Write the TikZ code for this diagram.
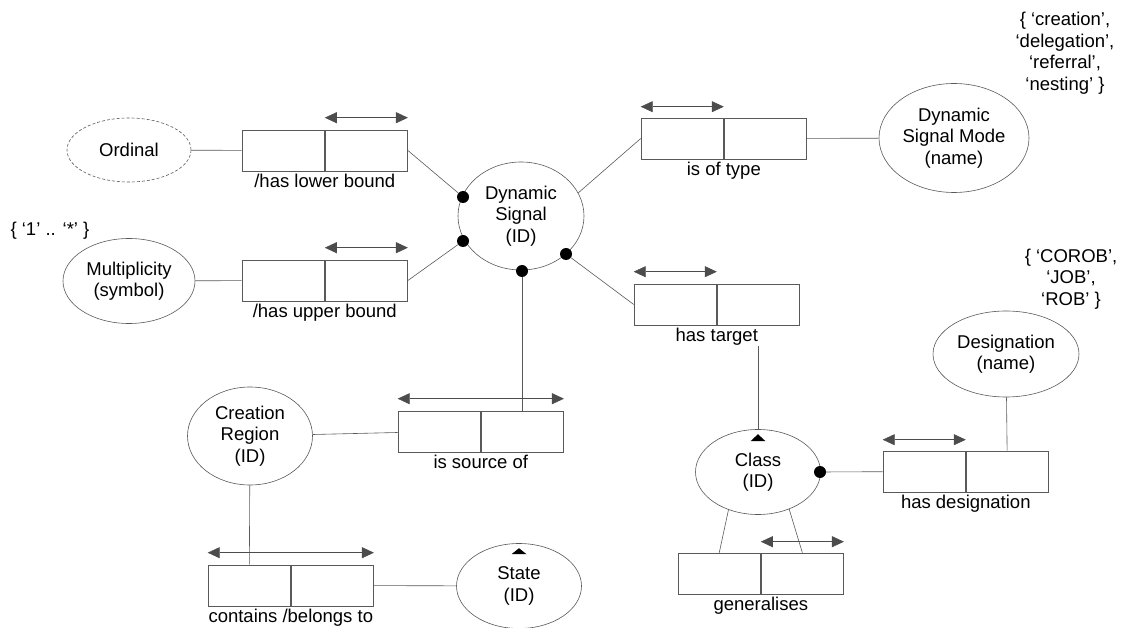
\documentclass[tikz,border=0pt]{standalone}
\usepackage{fontspec}
\setmainfont{Liberation Sans}
\usepackage{tikz}
\usetikzlibrary{shapes.geometric,arrows.meta}
\usetikzlibrary{positioning}
\tikzstyle{entity} = [ellipse, draw=black!65, line width=0.6pt, inner sep=-15pt,
                      align=center]
\tikzstyle{ghost entity} = [entity, dash pattern=on 3pt off 2pt]
\tikzstyle{role} = [rectangle, draw=black!65, line width=0.6pt,
    minimum width=82.5pt, minimum height=41pt, inner sep=0pt]
\tikzstyle{rolename} = [inner sep=0pt]
\tikzstyle{dot} = [circle, fill=black, inner sep=0pt, minimum size=12pt]
\tikzstyle{edge} = [draw, black!65, line width=0.6pt]
\tikzstyle{uniq} = [draw, black!70, line width=0.6pt,
    {Triangle[length=12pt,width=11pt]}-{Triangle[length=12pt,width=11pt]}]
\tikzstyle{values} = [align=center, inner sep=0pt]
\begin{document}
\begin{tikzpicture}[x=1pt, y=-1pt, node distance=0pt,
    font=\fontsize{18.5}{21.5}\selectfont]
  \useasboundingbox (0,0) rectangle (1125,628);
  % Place entities
  \node [ghost entity, minimum width=124pt, minimum height=64pt] (ord) at (129,150) {Ordinal};
  \node [entity, minimum width=132pt, minimum height=85pt] (mult) at (129,281) {Multiplicity\\(symbol)};
  \node [entity, minimum width=126pt, minimum height=108pt] (ds) at (521,216) {Dynamic\\Signal\\(ID)};
  \node [entity, minimum width=150pt, minimum height=109pt] (mode) at (954,138) {Dynamic\\Signal Mode\\(name)};
  \node [entity, minimum width=125pt, minimum height=85pt] (cls) at (758,472) {Class\\(ID)};
  \node [entity, minimum width=146pt, minimum height=86pt] (desg) at (1006,354) {Designation\\(name)};
  \node [entity, minimum width=125pt, minimum height=98pt] (cr) at (250,436) {Creation\\Region\\(ID)};
  \node [entity, minimum width=125pt, minimum height=85pt] (state) at (519,586) {State\\(ID)};
  % Value constraints
  \node [values] (multV) at (50,231) {\{ `1' .. `*' \}};
  \node [values] (modeV) at (1065,53) {\{ `creation',\\`delegation',\\`referral',\\`nesting' \}};
  \node [values] (desgV) at (1071,279) {\{ `COROB',\\`JOB',\\`ROB' \}};
  % Place roles
  \node [role] (lbA) at (283.25,150.5) {};
  \node [role, right=of lbA] (lbB) {};
  \node [rolename, below=3pt of lbA.south east] (lbL) {/has lower bound};
  \node [role] (ubA) at (283.25,280.5) {};
  \node [role, right=of ubA] (ubB) {};
  \node [rolename, below=3pt of ubA.south east] (ubL) {/has upper bound};
  \node [role] (tyA) at (682.25,138.5) {};
  \node [role, right=of tyA] (tyB) {};
  \node [rolename, below=3pt of tyA.south east] (tyL) {is of type};
  \node [role] (tgA) at (675.25,304.5) {};
  \node [role, right=of tgA] (tgB) {};
  \node [rolename, below=3pt of tgA.south east] (tgL) {has target};
  \node [role] (srcA) at (439.25,431.5) {};
  \node [role, right=of srcA] (srcB) {};
  \node [rolename, below=3pt of srcA.south east] (srcL) {is source of};
  \node [role] (cntA) at (249.25,585.5) {};
  \node [role, right=of cntA] (cntB) {};
  \node [rolename, below=3pt of cntA.south east] (cntL) {contains /belongs to};
  \node [role] (desA) at (924.25,471.5) {};
  \node [role, right=of desA] (desB) {};
  \node [rolename, below=3pt of desA.south east] (desL) {has designation};
  \node [role] (genA) at (719.25,573.5) {};
  \node [role, right=of genA] (genB) {};
  \node [rolename, below=3pt of genA.south east] (genL) {generalises};
  % Mandatory dots
  \node [dot] (dsA) at (463,197) {};
  \node [dot] (dsB) at (463,241) {};
  \node [dot] (dsC) at (522,271) {};
  \node [dot] (dsD) at (566,254) {};
  \node [dot] (clsA) at (820,472) {};
  % Draw edges
  \path[edge] (ord) -- (lbA);
  \path[edge] (mult) -- (ubA);
  \path[edge] (lbB.east) -- (dsA);
  \path[edge] (ubB.east) -- (dsB);
  \path[edge] (ds.22) -- (tyA.west);
  \path[edge] (tyB) -- (mode);
  \path[edge] (dsD) -- (tgA.west);
  \path[edge] (dsC) -- (dsC |- srcB.north);
  \path[edge] (cls.north) -- (cls.north |- tgL.south);
  \path[edge] (clsA) -- (desA);
  \path[edge] (desg) -- (desB);
  \path[edge] (cls.232) -- (genA.north);
  \path[edge] (cls.310) -- (genB.north);
  \path[edge] (cr) -- (srcA);
  \path[edge] (cr) -- (cntA);
  \path[edge] (cntB) -- (state);
  % Uniqueness bars
  \path[uniq] ([yshift=12pt]lbB.north west) -- ([yshift=12pt]lbB.north east);
  \path[uniq] ([yshift=12pt]ubB.north west) -- ([yshift=12pt]ubB.north east);
  \path[uniq] ([yshift=11pt]tyA.north west) -- ([yshift=11pt]tyA.north east);
  \path[uniq] ([yshift=12pt]tgA.north west) -- ([yshift=12pt]tgA.north east);
  \path[uniq] ([yshift=12pt]srcA.north west) -- ([yshift=12pt]srcB.north east);
  \path[uniq] ([yshift=12pt]cntA.north west) -- ([yshift=12pt]cntB.north east);
  \path[uniq] ([yshift=11pt]desA.north west) -- ([yshift=11pt]desA.north east);
  \path[uniq] ([yshift=11pt]genB.north west) -- ([yshift=11pt]genB.north east);
  % Subtype marks
  \fill[shift={(cls.north)}] (-7.5,12) -- (7.5,12) -- (0,5) -- cycle;
  \fill[shift={(state.north)}] (-7.5,11) -- (7.5,11) -- (0,5) -- cycle;
\end{tikzpicture}
\end{document}
